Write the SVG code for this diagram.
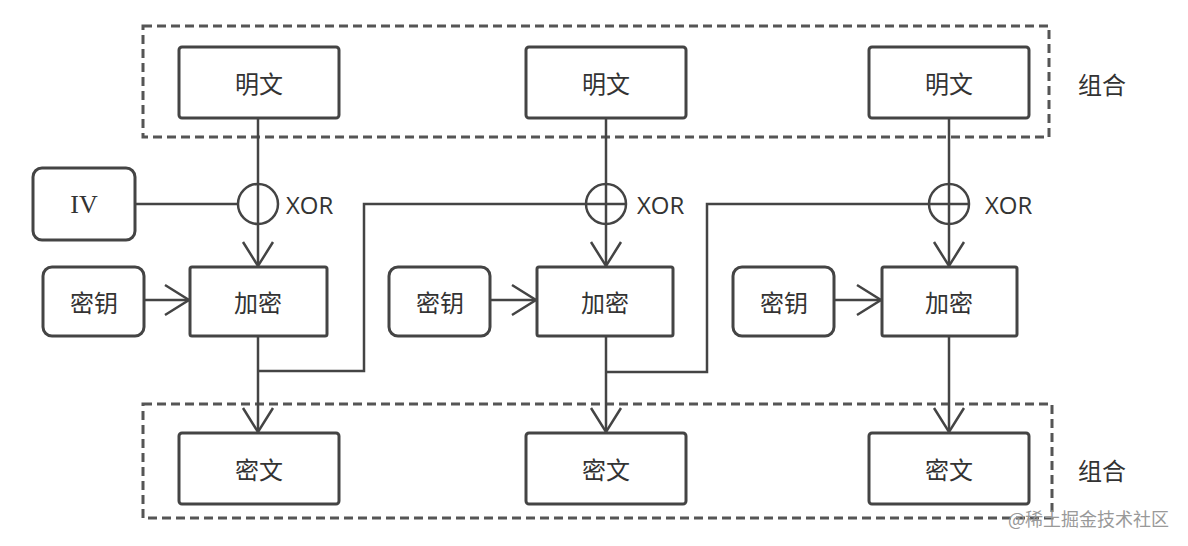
<svg xmlns="http://www.w3.org/2000/svg" width="1188" height="546" viewBox="0 0 1188 546">
<defs>
<style>
.box{fill:#fff;stroke:#444;stroke-width:3}
.dash{fill:none;stroke:#555;stroke-width:3;stroke-dasharray:9 5}
.ln{fill:none;stroke:#444;stroke-width:2.5}
.t{font-family:"Microsoft YaHei","Noto Sans CJK SC",sans-serif;font-size:24px;fill:#333;text-anchor:middle;dominant-baseline:central}
.x{font-family:"Open Sans","Liberation Sans",sans-serif;font-size:24px;fill:#333;dominant-baseline:central}
.wm{font-family:"Noto Sans CJK SC",sans-serif;font-size:18px;fill:#999}
</style>
<marker id="a" markerUnits="userSpaceOnUse" markerWidth="30" markerHeight="34" refX="25" refY="16" orient="auto" overflow="visible">
<path d="M1,1 L25,16 L1,31" fill="none" stroke="#444" stroke-width="2.5"/>
</marker>
</defs>
<rect width="1188" height="546" fill="#fff"/>
<rect class="dash" x="143" y="26" width="906" height="111"/>
<rect class="dash" x="143" y="404" width="909" height="114"/>
<text class="t" x="1102" y="83">组合</text>
<text class="t" x="1102" y="469">组合</text>
<g id="connectors">
<line class="ln" x1="258" y1="118" x2="258" y2="266" marker-end="url(#a)"/>
<line class="ln" x1="606" y1="118" x2="606" y2="266" marker-end="url(#a)"/>
<line class="ln" x1="949" y1="118" x2="949" y2="266" marker-end="url(#a)"/>
<line class="ln" x1="135" y1="204" x2="238" y2="204"/>
<circle class="ln" cx="258" cy="204" r="20"/>
<circle class="ln" cx="606" cy="204" r="20"/>
<circle class="ln" cx="949" cy="204" r="20"/>
<line class="ln" x1="144" y1="300" x2="189" y2="300" marker-end="url(#a)"/>
<line class="ln" x1="490" y1="300" x2="536" y2="300" marker-end="url(#a)"/>
<line class="ln" x1="834" y1="300" x2="881" y2="300" marker-end="url(#a)"/>
<line class="ln" x1="258" y1="336" x2="258" y2="432" marker-end="url(#a)"/>
<line class="ln" x1="606" y1="336" x2="606" y2="432" marker-end="url(#a)"/>
<line class="ln" x1="949" y1="336" x2="949" y2="432" marker-end="url(#a)"/>
<polyline class="ln" points="258,371 364,371 364,204 626,204"/>
<polyline class="ln" points="606,372 707,372 707,204 969,204"/>
</g>
<text class="x" x="286" y="204">XOR</text>
<text class="x" x="637" y="204">XOR</text>
<text class="x" x="985" y="204">XOR</text>
<g id="p1"><rect class="box" x="179" y="47" width="160" height="71" rx="3"/><text class="t" x="259" y="82">明文</text></g>
<g id="p2"><rect class="box" x="526" y="47" width="160" height="71" rx="3"/><text class="t" x="606" y="82">明文</text></g>
<g id="p3"><rect class="box" x="869" y="47" width="160" height="71" rx="3"/><text class="t" x="949" y="82">明文</text></g>
<g id="iv"><rect class="box" x="33" y="168" width="102" height="72" rx="9"/><text class="t" x="84" y="204" style="font-family:'Liberation Serif',serif;font-size:26px">IV</text></g>
<g id="k1"><rect class="box" x="43" y="267" width="101" height="69" rx="9"/><text class="t" x="94" y="301">密钥</text></g>
<g id="k2"><rect class="box" x="389" y="267" width="101" height="69" rx="9"/><text class="t" x="440" y="301">密钥</text></g>
<g id="k3"><rect class="box" x="733" y="267" width="101" height="69" rx="9"/><text class="t" x="784" y="301">密钥</text></g>
<g id="e1"><rect class="box" x="190" y="267" width="137" height="69" rx="2"/><text class="t" x="258" y="301">加密</text></g>
<g id="e2"><rect class="box" x="537" y="267" width="136" height="69" rx="2"/><text class="t" x="605" y="301">加密</text></g>
<g id="e3"><rect class="box" x="882" y="267" width="135" height="69" rx="2"/><text class="t" x="949" y="301">加密</text></g>
<g id="c1"><rect class="box" x="179" y="433" width="160" height="71" rx="3"/><text class="t" x="259" y="468">密文</text></g>
<g id="c2"><rect class="box" x="526" y="433" width="160" height="71" rx="3"/><text class="t" x="606" y="468">密文</text></g>
<g id="c3"><rect class="box" x="869" y="433" width="160" height="71" rx="3"/><text class="t" x="949" y="468">密文</text></g>
<text class="wm" x="1008" y="526">@稀土掘金技术社区</text>
</svg>
